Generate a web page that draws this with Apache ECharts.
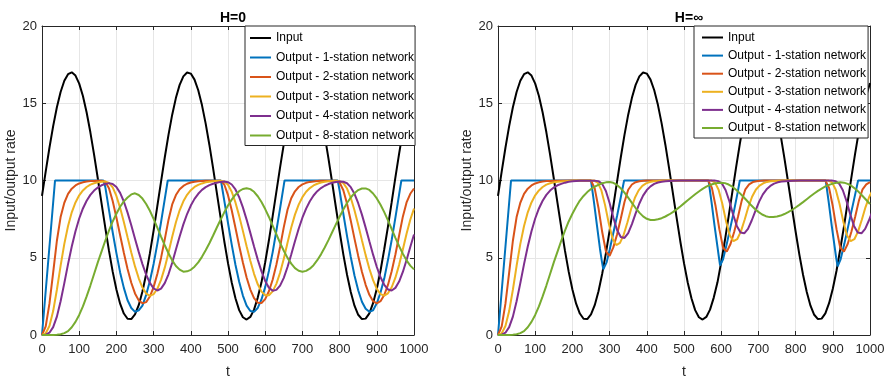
<!DOCTYPE html>
<html>
<head>
<meta charset="utf-8">
<script src="https://cdn.jsdelivr.net/npm/echarts@6/dist/echarts.min.js"></script>
<style>
html,body{margin:0;padding:0;background:#fff;}
#chart{width:892px;height:379px;}
</style>
</head>
<body>
<div id="chart"></div>
<script>
// ---------- data ----------
const titles = ['H=0', 'H=\u221e'];
const seriesNames = ['Input', 'Output - 1-station network', 'Output - 2-station network',
  'Output - 3-station network', 'Output - 4-station network', 'Output - 8-station network'];
const xTicks = [0, 100, 200, 300, 400, 500, 600, 700, 800, 900, 1000];
const yTicks = [0, 5, 10, 15, 20];

const T10 = [0,10,20,30,40,50,60,70,80,90,100,110,120,130,140,150,160,170,180,190,200,210,220,230,240,250,260,270,280,290,300,310,320,330,340,350,360,370,380,390,400,410,420,430,440,450,460,470,480,490,500,510,520,530,540,550,560,570,580,590,600,610,620,630,640,650,660,670,680,690,700,710,720,730,740,750,760,770,780,790,800,810,820,830,840,850,860,870,880,890,900,910,920,930,940,950,960,970,980,990,1000];

const input = [9.00,10.59,12.12,13.52,14.74,15.73,16.46,16.88,17.00,16.79,16.27,15.47,14.40,13.12,11.68,10.13,8.53,6.96,5.46,4.10,2.95,2.03,1.39,1.05,1.03,1.33,1.93,2.82,3.95,5.28,6.76,8.34,9.93,11.49,12.95,14.26,15.35,16.19,16.74,16.99,16.92,16.53,15.84,14.88,13.68,12.30,10.78,9.20,7.61,6.07,4.65,3.40,2.38,1.61,1.15,1.00,1.17,1.64,2.42,3.41,4.71,6.13,7.68,9.27,10.85,12.36,13.74,14.92,15.87,16.55,16.92,16.98,16.73,16.16,15.31,14.20,12.90,11.43,9.87,8.27,6.70,5.22,3.90,2.78,1.90,1.31,1.03,1.06,1.40,2.06,2.99,4.16,5.55,7.02,8.60,10.20,11.74,13.18,14.49,15.51,16.30];

// ---- H=0 panel ----
const blueL_T = [0,35,165,170,180,190,200,210,220,230,240,250,260,270,280,290,300,310,320,330,338,481,490,500,510,520,530,540,550,560,570,580,590,600,610,620,630,640,650,652,795,800,810,820,830,840,850,860,870,880,890,900,910,920,930,940,950,960,966,1000];
const blueL_V = [0,10,10,9.6,8.1,6.65,5.3,4.05,3.05,2.25,1.75,1.5,1.6,1.9,2.6,3.5,4.6,5.9,7.3,8.8,10,10,8.7,7.25,5.85,4.55,3.45,2.55,1.9,1.55,1.5,1.75,2.3,3.1,4.15,5.35,6.75,8.2,9.7,10,10,9.35,7.85,6.4,5.05,3.85,2.9,2.15,1.7,1.5,1.6,2.05,2.75,3.65,4.85,6.15,7.6,9.1,10,10];

const orangeL = [0,0.56,2.03,4.04,6.10,7.63,8.56,9.13,9.47,9.68,9.81,9.88,9.93,9.96,9.97,9.98,9.99,9.92,9.50,8.67,7.61,6.46,5.32,4.27,3.38,2.69,2.24,2.05,2.13,2.49,3.10,3.95,4.99,6.19,7.45,8.45,9.06,9.43,9.65,9.79,9.87,9.92,9.95,9.97,9.98,9.99,9.99,9.99,9.99,9.74,9.05,8.07,6.94,5.78,4.69,3.72,2.94,2.39,2.09,2.07,2.32,2.83,3.58,4.55,5.70,6.98,8.11,8.85,9.30,9.58,9.75,9.85,9.91,9.94,9.97,9.98,9.99,9.99,9.99,9.99,9.87,9.37,8.49,7.40,6.24,5.12,4.10,3.25,2.60,2.19,2.05,2.19,2.59,3.24,4.13,5.21,6.44,7.66,8.58,9.14,9.48];

const yellowL = [0,0.11,0.58,1.55,2.93,4.48,5.90,7.06,7.94,8.58,9.04,9.36,9.58,9.73,9.82,9.88,9.92,9.94,9.85,9.55,9.00,8.23,7.31,6.32,5.34,4.44,3.67,3.07,2.68,2.53,2.64,2.99,3.57,4.36,5.33,6.36,7.30,8.07,8.65,9.07,9.37,9.58,9.72,9.81,9.88,9.92,9.95,9.97,9.98,9.94,9.73,9.27,8.58,7.71,6.74,5.75,4.80,3.96,3.28,2.81,2.57,2.57,2.82,3.31,4.03,4.94,5.97,6.96,7.79,8.44,8.92,9.27,9.51,9.68,9.79,9.87,9.92,9.95,9.97,9.98,9.96,9.83,9.48,8.88,8.07,7.13,6.14,5.17,4.29,3.55,2.99,2.65,2.55,2.70,3.09,3.71,4.54,5.53,6.55,7.46,8.19];

const purpleL = [0,0.02,0.15,0.51,1.19,2.18,3.36,4.59,5.73,6.72,7.54,8.19,8.69,9.07,9.35,9.55,9.69,9.78,9.83,9.78,9.58,9.20,8.64,7.92,7.10,6.23,5.38,4.59,3.90,3.37,3.02,2.88,3.00,3.36,3.93,4.68,5.53,6.38,7.16,7.83,8.38,8.81,9.14,9.39,9.57,9.70,9.79,9.86,9.91,9.93,9.89,9.74,9.42,8.92,8.26,7.47,6.61,5.73,4.88,4.12,3.50,3.06,2.87,2.92,3.20,3.70,4.40,5.21,6.07,6.88,7.59,8.18,8.66,9.03,9.31,9.51,9.66,9.77,9.85,9.90,9.93,9.92,9.82,9.57,9.14,8.53,7.79,6.95,6.07,5.20,4.40,3.74,3.25,2.95,2.88,3.05,3.46,4.08,4.85,5.70,6.50];

const greenL = [0,0,0,0,0.02,0.05,0.12,0.25,0.5,0.85,1.3,1.85,2.5,3.2,3.95,4.7,5.4,6.1,6.75,7.35,7.85,8.3,8.65,8.9,9.1,9.17,9.06,8.83,8.48,8.04,7.52,6.95,6.37,5.81,5.29,4.83,4.47,4.23,4.10,4.12,4.22,4.42,4.70,5.06,5.48,5.94,6.44,6.96,7.46,7.94,8.38,8.76,9.08,9.31,9.45,9.50,9.44,9.27,8.98,8.61,8.15,7.64,7.08,6.52,5.96,5.45,4.99,4.62,4.33,4.16,4.10,4.15,4.29,4.52,4.84,5.22,5.66,6.14,6.65,7.16,7.65,8.12,8.54,8.90,9.18,9.38,9.48,9.49,9.39,9.16,8.84,8.43,7.95,7.42,6.86,6.29,5.75,5.26,4.83,4.49,4.25];

// ---- H=inf panel ----
const blueR_T = [0,35,250,258,266,274,279,283,287,292,300,310,320,330,339,566,574,582,590,594,597,600,605,615,625,635,644,650,881,889,897,905,909,913,916,921,931,941,951,961,968,1000];
const blueR_V = [0,10,10,8.6,7.1,5.6,4.8,4.25,4.3,4.7,5.5,6.6,7.7,8.9,10,10,8.6,7.1,5.7,5.0,4.5,4.5,4.9,5.9,7.0,8.1,9.2,10,10,8.6,7.1,5.7,5.0,4.45,4.5,4.9,5.9,7.0,8.1,9.2,10,10];

const orangeR_T = [0,10,20,30,40,50,60,70,80,90,100,110,120,130,140,150,160,200,250,260,270,280,290,300,310,320,330,340,350,360,370,380,390,400,565,575,585,595,605,615,625,635,645,655,665,675,685,695,705,715,880,890,900,910,920,930,940,950,960,970,980,990,1000];
const orangeR_V = [0,0.56,2.03,4.04,6.10,7.63,8.56,9.13,9.47,9.68,9.81,9.88,9.93,9.96,9.97,9.98,9.99,10,10,9.49,8.24,6.68,5.42,5.12,5.67,6.51,7.52,8.61,9.40,9.74,9.89,9.95,9.98,10,10,9.52,8.33,6.85,5.65,5.40,5.89,6.68,7.64,8.68,9.43,9.75,9.9,9.95,9.98,10,10,9.52,8.33,6.85,5.65,5.40,5.89,6.68,7.64,8.68,9.43,9.75,9.9];

const yellowR_T = [0,10,20,30,40,50,60,70,80,90,100,110,120,130,140,150,160,170,200,258,268,278,288,298,308,318,328,338,348,358,368,378,388,398,408,418,428,438,458,573,583,593,603,613,623,633,643,653,663,673,683,693,703,713,723,733,743,753,773,888,898,908,918,928,938,948,958,968,978,988,998,1008];
const yellowR_V = [0,0.11,0.58,1.55,2.93,4.48,5.90,7.06,7.94,8.58,9.04,9.36,9.58,9.73,9.82,9.88,9.92,9.94,9.98,10,9.87,9.36,8.39,7.20,6.23,5.82,5.96,6.50,7.30,8.17,8.88,9.36,9.65,9.81,9.90,9.95,9.97,9.99,10,10,9.88,9.40,8.49,7.37,6.46,6.07,6.20,6.71,7.46,8.28,8.95,9.40,9.67,9.82,9.91,9.95,9.97,9.99,10,10,9.88,9.40,8.49,7.37,6.46,6.07,6.20,6.71,7.46,8.28,8.95,9.40];

const purpleR_T = [0,10,20,30,40,50,60,70,80,90,100,110,120,130,140,150,160,170,180,190,200,220,250,260,270,280,290,300,310,320,330,340,350,360,370,380,390,400,410,420,430,440,450,460,470,490,582,592,602,612,622,632,642,652,662,672,682,692,702,712,722,732,742,752,762,772,782,792,812,897,907,917,927,937,947,957,967,977,987,997,1007];
const purpleR_V = [0,0.02,0.15,0.51,1.19,2.18,3.36,4.59,5.73,6.72,7.54,8.19,8.69,9.07,9.35,9.55,9.69,9.78,9.86,9.92,9.95,9.98,9.99,9.99,9.96,9.78,9.32,8.54,7.61,6.80,6.34,6.28,6.60,7.18,7.87,8.51,9.02,9.38,9.62,9.78,9.87,9.92,9.95,9.97,9.98,10,10,9.96,9.80,9.37,8.66,7.80,7.06,6.63,6.58,6.87,7.41,8.04,8.63,9.10,9.43,9.65,9.80,9.88,9.93,9.95,9.97,9.98,10,10,9.96,9.80,9.37,8.66,7.80,7.06,6.63,6.58,6.87,7.41,8.04];

const greenR = [0,0,0,0,0.02,0.05,0.12,0.25,0.5,0.85,1.3,1.85,2.5,3.2,3.95,4.7,5.4,6.1,6.75,7.35,7.85,8.3,8.7,9.0,9.25,9.45,9.6,9.72,9.82,9.88,9.9,9.85,9.71,9.50,9.22,8.89,8.55,8.22,7.92,7.68,7.52,7.44,7.45,7.49,7.56,7.67,7.80,7.95,8.13,8.32,8.52,8.72,8.92,9.11,9.29,9.46,9.60,9.71,9.79,9.84,9.86,9.83,9.74,9.60,9.40,9.18,8.93,8.67,8.41,8.17,7.97,7.80,7.69,7.63,7.64,7.67,7.73,7.83,7.95,8.09,8.25,8.42,8.60,8.79,8.98,9.16,9.33,9.48,9.62,9.72,9.80,9.86,9.88,9.86,9.78,9.65,9.47,9.25,9.00,8.74,8.48];

const colors = ['#000000', '#0072BD', '#D95319', '#EDB120', '#7E2F8E', '#77AC30'];

// ---------- build chart ----------
function zip(xs, ys) { return xs.map((x, i) => [x, ys[i]]); }

const panels = [
  [zip(T10, input), zip(blueL_T, blueL_V), zip(T10, orangeL), zip(T10, yellowL), zip(T10, purpleL), zip(T10, greenL)],
  [zip(T10, input), zip(blueR_T, blueR_V), zip(orangeR_T, orangeR_V), zip(yellowR_T, yellowR_V), zip(purpleR_T, purpleR_V), zip(T10, greenR)]
];

const FONT = 'Liberation Sans, Arial, Helvetica, sans-serif';
const AX = '#262626';
const gridLefts = [42, 498];

const legendCommon = {
  top: 26, orient: 'vertical', icon: 'rect', itemWidth: 21, itemHeight: 2,
  backgroundColor: '#fff', borderColor: AX, borderWidth: 1, borderRadius: 0,
  textStyle: { fontSize: 12, lineHeight: 12, color: '#000', fontFamily: FONT },
  data: seriesNames, selectedMode: false
};

const option = {
  animation: false,
  backgroundColor: '#ffffff',
  textStyle: { fontFamily: FONT },
  title: titles.map((t, i) => ({
    text: t, left: gridLefts[i] + 186, top: 6, textAlign: 'center',
    textStyle: { fontSize: 14, fontWeight: 'bold', color: '#000', fontFamily: FONT }
  })),
  grid: gridLefts.map(l => ({ left: l, top: 26, width: 372, height: 309, show: false,
    containLabel: false, outerBoundsMode: 'none' })),
  xAxis: [],
  yAxis: [],
  legend: [
    Object.assign({}, legendCommon, { left: 245, padding: [6, 1, 4, 5], itemGap: 7.5 }),
    Object.assign({}, legendCommon, { left: 694, padding: [5.5, 2, 4, 8], itemGap: 6.1 })
  ],
  series: []
};

for (let g = 0; g < 2; g++) {
  const base = {
    gridIndex: g, type: 'value', min: xTicks[0], max: xTicks[xTicks.length - 1], interval: xTicks[1] - xTicks[0],
    axisLine: { show: true, onZero: false, lineStyle: { color: AX, width: 1 } },
    axisTick: { show: true, inside: true, length: 4, lineStyle: { color: AX } },
  };
  option.xAxis.push(Object.assign({}, base, {
    position: 'bottom',
    axisLabel: { show: true, color: AX, fontSize: 13, margin: 8, fontFamily: FONT, formatter: v => String(v) },
    splitLine: { show: true, lineStyle: { color: '#e6e6e6', width: 1 } },
    name: 't', nameLocation: 'middle', nameGap: 30,
    nameTextStyle: { fontSize: 14, color: AX, fontFamily: FONT }
  }));
  option.xAxis.push(Object.assign({}, base, {
    position: 'top', axisLabel: { show: false }, splitLine: { show: false }
  }));
  const ybase = {
    gridIndex: g, type: 'value', min: yTicks[0], max: yTicks[yTicks.length - 1], interval: yTicks[1] - yTicks[0],
    axisLine: { show: true, onZero: false, lineStyle: { color: AX, width: 1 } },
    axisTick: { show: true, inside: true, length: 4, lineStyle: { color: AX } },
  };
  option.yAxis.push(Object.assign({}, ybase, {
    position: 'left',
    axisLabel: { show: true, color: AX, fontSize: 13, margin: 5, fontFamily: FONT, formatter: v => String(v) },
    splitLine: { show: true, lineStyle: { color: '#e6e6e6', width: 1 } },
    name: 'Input/output rate', nameLocation: 'middle', nameGap: 19,
    nameTextStyle: { fontSize: 14, color: AX, fontFamily: FONT }
  }));
  option.yAxis.push(Object.assign({}, ybase, {
    position: 'right', axisLabel: { show: false }, splitLine: { show: false }
  }));

  panels[g].forEach((data, k) => {
    option.series.push({
      name: seriesNames[k], type: 'line', xAxisIndex: g * 2, yAxisIndex: g * 2,
      data: data, symbol: 'none', showSymbol: false, smooth: false, clip: true,
      lineStyle: { color: colors[k], width: 2 }, itemStyle: { color: colors[k] },
      emphasis: { disabled: true }, z: 2 + k * 0.01
    });
  });
}

const chart = echarts.init(document.getElementById('chart'), null, { renderer: 'canvas' });
chart.setOption(option);
</script>
</body>
</html>
